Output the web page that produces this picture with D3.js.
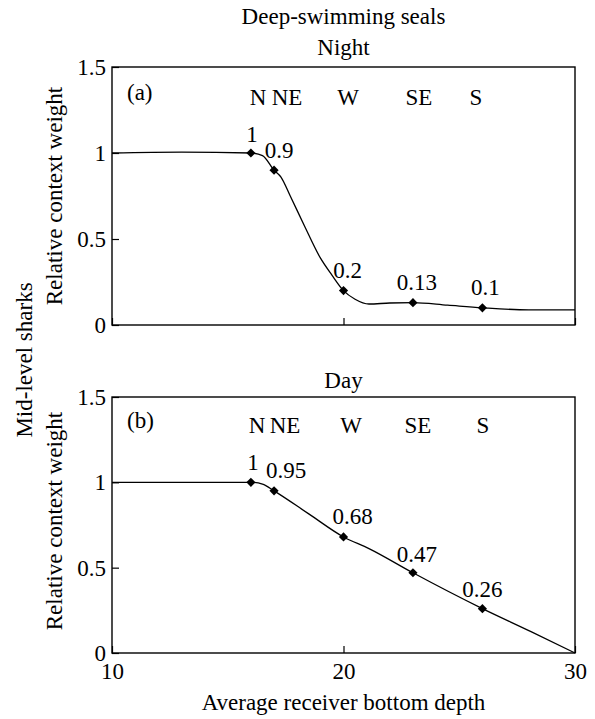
<!DOCTYPE html>
<html>
<head>
<meta charset="utf-8">
<script src="https://cdn.jsdelivr.net/npm/d3@7"></script>
<style>
  body { margin: 0; background: #fff; }
</style>
</head>
<body>
<svg id="chart" width="595" height="719"></svg>
<script>
// ---- data ----
const depthDomain = [10, 30];
const weightDomain = [0, 1.5];
const weightTicks = [0, 0.5, 1, 1.5];
const depthTicks = [10, 20, 30];

const receivers = ["N", "NE", "W", "SE", "S"];
const receiverDepths = [16, 17, 20, 23, 26];
const nightWeights = [1, 0.9, 0.2, 0.13, 0.1];
const dayWeights = [1, 0.95, 0.68, 0.47, 0.26];

// fitted response curves (depth, weight)
const nightCurveDepth  = [10, 13, 16, 16.5, 17, 17.3, 17.7, 18.3, 19, 19.5, 20, 20.5, 21.1, 22, 23, 24.5, 26, 28, 30];
const nightCurveWeight = [1, 1.005, 1, 0.985, 0.9, 0.86, 0.75, 0.58, 0.39, 0.29, 0.2, 0.15, 0.122, 0.128, 0.13, 0.115, 0.1, 0.088, 0.088];
const dayCurveDepth  = [10, 13, 16, 16.5, 17, 18.5, 20, 21.1, 23, 26, 28.1, 30];
const dayCurveWeight = [1, 1, 1, 0.99, 0.95, 0.815, 0.68, 0.612, 0.47, 0.26, 0.125, 0];

// ---- layout ----
const FONT = "'Liberation Serif'";
const FONT_SIZE = "23px";
const frame = { left: 112, right: 575 };
const panels = [
  { tag: "(a)", title: "Night", top: 67, bottom: 325, weights: nightWeights,
    curveX: nightCurveDepth, curveY: nightCurveWeight, xLabels: false,
    titleY: 55, tagY: 100, dirY: 105,
    dirX: [258, 287, 348, 419, 476],
    valDx: [1, 5, 4, 4, 3], valDy: [-11, -12, -13, -12.5, -13] },
  { tag: "(b)", title: "Day", top: 397, bottom: 653, weights: dayWeights,
    curveX: dayCurveDepth, curveY: dayCurveWeight, xLabels: true,
    titleY: 388, tagY: 428, dirY: 433,
    dirX: [257, 285, 351, 418, 483],
    valDx: [2, 12, 9, 4, 0], valDy: [-12, -12.5, -13, -11, -11.5] }
];

const svg = d3.select("#chart");
const x = d3.scaleLinear().domain(depthDomain).range([frame.left, frame.right]);
const cx = (frame.left + frame.right) / 2;

function styleText(sel) {
  return sel.attr("font-family", null)
    .style("font-family", FONT).style("font-size", FONT_SIZE).style("fill", "#000");
}

styleText(svg.append("text").attr("x", cx).attr("y", 24).attr("text-anchor", "middle"))
  .text("Deep-swimming seals");

panels.forEach((p, pi) => {
  const y = d3.scaleLinear().domain(weightDomain).range([p.bottom, p.top]);
  const g = svg.append("g");

  // y axis with inward ticks
  const yAxis = g.append("g").attr("transform", `translate(${frame.left},0)`)
    .call(d3.axisLeft(y).tickValues(weightTicks).tickFormat(d3.format("~g"))
      .tickSizeInner(-7).tickSizeOuter(0).tickPadding(6));
  yAxis.attr("font-family", null).attr("font-size", null);
  yAxis.select(".domain").remove();
  yAxis.selectAll("line").attr("stroke", "#000").attr("stroke-width", 1.2);
  styleText(yAxis.selectAll("text"));

  // x axis with inward ticks
  const xAxis = g.append("g").attr("transform", `translate(0,${p.bottom})`)
    .call(d3.axisBottom(x).tickValues(depthTicks).tickFormat(d3.format("d"))
      .tickSizeInner(-7).tickSizeOuter(0).tickPadding(10));
  xAxis.attr("font-family", null).attr("font-size", null);
  xAxis.select(".domain").remove();
  xAxis.selectAll("line").attr("stroke", "#000").attr("stroke-width", 1.2);
  if (p.xLabels) {
    styleText(xAxis.selectAll("text"));
  } else {
    xAxis.selectAll("text").remove();
  }

  // frame
  g.append("rect")
    .attr("x", frame.left).attr("y", p.top)
    .attr("width", frame.right - frame.left).attr("height", p.bottom - p.top)
    .attr("fill", "none").attr("stroke", "#000").attr("stroke-width", 1.4);

  // fitted curve
  const curvePts = p.curveX.map((d, i) => [d, p.curveY[i]]);
  g.append("path")
    .datum(curvePts)
    .attr("fill", "none").attr("stroke", "#000").attr("stroke-width", 1.3)
    .attr("d", d3.line().x(d => x(d[0])).y(d => y(d[1])).curve(d3.curveMonotoneX));

  // receiver markers
  const pts = receiverDepths.map((d, i) => ({ depth: d, w: p.weights[i], i }));
  g.selectAll("path.marker").data(pts).join("path")
    .attr("class", "marker")
    .attr("d", d3.symbol().type(d3.symbolSquare).size(42))
    .attr("transform", d => `translate(${x(d.depth)},${y(d.w)}) rotate(45)`)
    .attr("fill", "#000");

  // value labels
  styleText(g.selectAll("text.val").data(pts).join("text")
    .attr("class", "val")
    .attr("x", d => x(d.depth) + p.valDx[d.i])
    .attr("y", d => y(d.w) + p.valDy[d.i])
    .attr("text-anchor", "middle"))
    .text(d => d3.format("~g")(d.w));

  // receiver names
  styleText(g.selectAll("text.dir").data(receivers).join("text")
    .attr("class", "dir")
    .attr("x", (d, i) => p.dirX[i]).attr("y", p.dirY)
    .attr("text-anchor", "middle"))
    .text(d => d);

  // panel tag and title
  styleText(g.append("text").attr("x", 127).attr("y", p.tagY)).text(p.tag);
  styleText(g.append("text").attr("x", cx).attr("y", p.titleY).attr("text-anchor", "middle")).text(p.title);

  // y axis title
  const mid = (p.top + p.bottom) / 2 - (pi === 1 ? 4 : 0);
  styleText(g.append("text")
    .attr("transform", `translate(62,${mid}) rotate(-90)`)
    .attr("text-anchor", "middle"))
    .text("Relative context weight");
});

// shared titles
styleText(svg.append("text")
  .attr("transform", `translate(32,${(panels[0].top + panels[1].bottom) / 2}) rotate(-90)`)
  .attr("text-anchor", "middle"))
  .text("Mid-level sharks");

styleText(svg.append("text").attr("x", cx).attr("y", 710).attr("text-anchor", "middle"))
  .text("Average receiver bottom depth");
</script>
</body>
</html>
